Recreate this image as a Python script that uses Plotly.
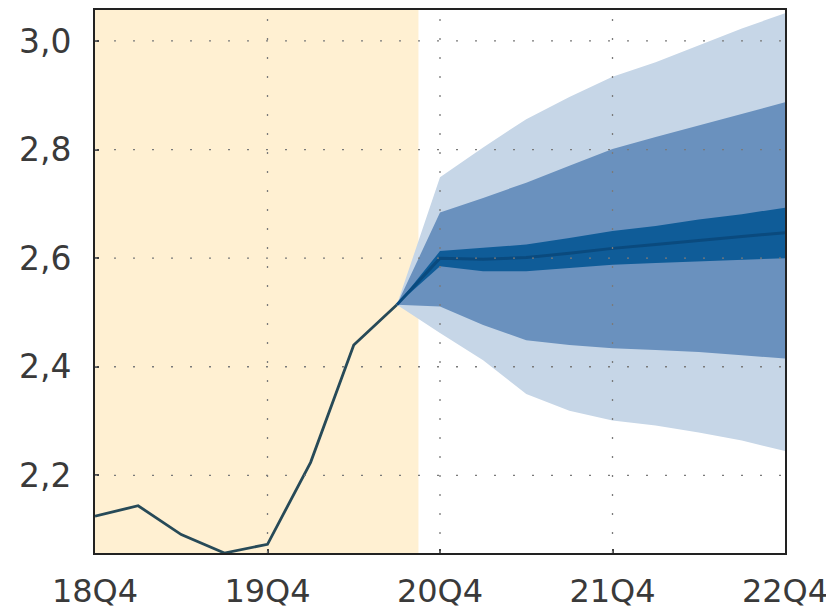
import plotly.graph_objects as go

# ---- data ----
tick_labels = ["18Q4", "19Q4", "20Q4", "21Q4", "22Q4"]
tick_positions = [0, 4, 8, 12, 16]
y_ticks = [2.2, 2.4, 2.6, 2.8, 3.0]

hist_x = [0, 1, 2, 3, 4, 5, 6, 7]
hist_y = [2.125, 2.144, 2.091, 2.057, 2.073, 2.224, 2.440, 2.514]

fan_x = [7, 8, 9, 10, 11, 12, 13, 14, 15, 16]
outer_hi = [2.514, 2.749, 2.804, 2.856, 2.897, 2.934, 2.961, 2.992, 3.023, 3.051]
outer_lo = [2.514, 2.462, 2.412, 2.350, 2.319, 2.301, 2.292, 2.279, 2.264, 2.245]
mid_hi = [2.514, 2.684, 2.711, 2.739, 2.770, 2.801, 2.823, 2.844, 2.866, 2.887]
mid_lo = [2.514, 2.511, 2.477, 2.449, 2.440, 2.434, 2.431, 2.427, 2.421, 2.415]
inner_hi = [2.514, 2.613, 2.619, 2.625, 2.637, 2.650, 2.659, 2.671, 2.681, 2.693]
inner_lo = [2.514, 2.585, 2.576, 2.576, 2.582, 2.588, 2.591, 2.594, 2.597, 2.600]
central = [2.514, 2.600, 2.598, 2.601, 2.609, 2.618, 2.625, 2.633, 2.640, 2.647]

# ---- styles ----
c_outer = "#c6d6e7"
c_mid = "#6a91be"
c_inner = "#0f5c98"
c_central = "#0a4a7e"
c_hist = "#274a58"
c_shade = "#fff0d2"
font_family = "DejaVu Sans"

fig = go.Figure()

def band(lo, hi, color):
    fig.add_trace(go.Scatter(x=fan_x, y=lo, mode="lines", line=dict(width=0, color=color),
                             hoverinfo="skip", showlegend=False))
    fig.add_trace(go.Scatter(x=fan_x, y=hi, mode="lines", line=dict(width=0, color=color),
                             fill="tonexty", fillcolor=color, hoverinfo="skip", showlegend=False))

band(outer_lo, outer_hi, c_outer)
band(mid_lo, mid_hi, c_mid)
band(inner_lo, inner_hi, c_inner)

fig.add_trace(go.Scatter(x=fan_x, y=central, mode="lines",
                         line=dict(color=c_central, width=3), showlegend=False))
fig.add_trace(go.Scatter(x=hist_x, y=hist_y, mode="lines",
                         line=dict(color=c_hist, width=2.8), showlegend=False))

x_min, x_max = tick_positions[0], tick_positions[-1]
y_min, y_max = 2.057, 3.057

# shaded history period
fig.add_shape(type="rect", xref="x", yref="paper", x0=x_min, x1=hist_x[-1] + 0.5,
              y0=0, y1=1, fillcolor=c_shade, line=dict(width=0), layer="below")

# dotted gridlines drawn above the fan
grid_style = dict(color="#7a7a7a", width=1.3, dash="2px,17px")
for tv in tick_positions[1:-1]:
    fig.add_shape(type="line", xref="x", yref="paper", x0=tv, x1=tv, y0=0, y1=1,
                  line=grid_style, layer="above")
for yv in y_ticks:
    fig.add_shape(type="line", xref="paper", yref="y", x0=0, x1=1, y0=yv, y1=yv,
                  line=grid_style, layer="above")

axis_common = dict(showline=True, linecolor="#222222", linewidth=2, mirror=True,
                   showgrid=False, zeroline=False, ticks="inside", ticklen=4,
                   tickcolor="#444444", tickwidth=1.5, automargin=False)

fig.update_layout(
    width=826, height=607,
    margin=dict(l=87, r=49, t=2, b=62),
    paper_bgcolor="white", plot_bgcolor="white",
    separators=", ",
    showlegend=False,
    xaxis=dict(range=[x_min, x_max], tickvals=tick_positions, ticktext=tick_labels,
               ticklabelstandoff=9,
               tickfont=dict(family=font_family, size=32, color="#3a3a3a"),
               **axis_common),
    yaxis=dict(range=[y_min, y_max], tickvals=y_ticks, tickformat=".1f",
               ticklabelstandoff=15,
               tickfont=dict(family=font_family, size=33, color="#3a3a3a"),
               **axis_common),
)

fig.write_html("out.html")
